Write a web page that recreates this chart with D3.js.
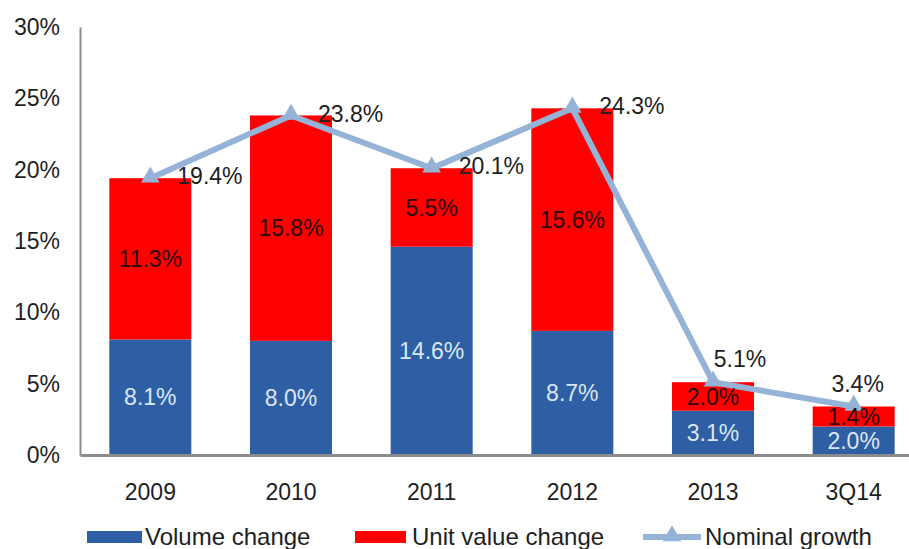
<!DOCTYPE html>
<html>
<head>
<meta charset="utf-8">
<script src="https://cdn.jsdelivr.net/npm/d3@7/dist/d3.min.js"></script>
<style>
  html, body { margin: 0; padding: 0; background: #fff; }
  svg { display: block; font-family: "Liberation Sans", Arial, sans-serif; }
</style>
</head>
<body>
<svg id="chart" width="909" height="549"></svg>
<script>
// Growth decomposition by year
const categories = ["2009", "2010", "2011", "2012", "2013", "3Q14"];
const volumeChange = [8.1, 8.0, 14.6, 8.7, 3.1, 2.0];
const unitValueChange = [11.3, 15.8, 5.5, 15.6, 2.0, 1.4];
const nominalGrowth = [19.4, 23.8, 20.1, 24.3, 5.1, 3.4];
const yTicks = [0, 5, 10, 15, 20, 25, 30];
const seriesNames = ["Volume change", "Unit value change", "Nominal growth"];

const BLUE = "#2E5FA5", RED = "#FF0000", LINE = "#95B3D7", AXIS = "#8C8C8C", TEXT = "#1E1E1E";
const FS = 23;

const svg = d3.select("#chart");

const x = d3.scaleBand().domain(categories).range([80, 924]).paddingInner(0.417).paddingOuter(0.2085);
const y = d3.scaleLinear().domain([0, 30]).range([455, 27]);

const rows = categories.map((c, i) => ({
  cat: c, vol: volumeChange[i], unit: unitValueChange[i], nom: nominalGrowth[i]
}));

// Y axis
const yAxis = svg.append("g").attr("transform", "translate(80,0)")
  .call(d3.axisLeft(y).tickValues(yTicks).tickFormat(d => d + "%").tickSize(0).tickPadding(20));
yAxis.select(".domain").attr("stroke", AXIS).attr("stroke-width", 2);
yAxis.selectAll("text").attr("font-size", FS).attr("fill", TEXT).attr("font-family", "Liberation Sans, Arial, sans-serif");

// Stacked bars
const barG = svg.append("g");
barG.selectAll("rect.vol").data(rows).join("rect")
  .attr("x", d => x(d.cat)).attr("width", x.bandwidth())
  .attr("y", d => y(d.vol)).attr("height", d => y(0) - y(d.vol))
  .attr("fill", BLUE);
barG.selectAll("rect.unit").data(rows).join("rect")
  .attr("x", d => x(d.cat)).attr("width", x.bandwidth())
  .attr("y", d => y(d.vol + d.unit)).attr("height", d => y(d.vol) - y(d.vol + d.unit))
  .attr("fill", RED);

// X axis
const xAxis = svg.append("g").attr("transform", "translate(0,455)")
  .call(d3.axisBottom(x).tickSize(0).tickPadding(29).tickSizeOuter(0));
xAxis.select(".domain").attr("stroke", AXIS).attr("stroke-width", 3);
xAxis.selectAll("text").attr("font-size", FS).attr("fill", TEXT).attr("font-family", "Liberation Sans, Arial, sans-serif");

// Nominal growth line with triangle markers
const cx = d => x(d.cat) + x.bandwidth() / 2;
svg.append("path").datum(rows)
  .attr("fill", "none").attr("stroke", LINE).attr("stroke-width", 6).attr("stroke-linejoin", "round")
  .attr("d", d3.line().x(cx).y(d => y(d.nom)));

const tri = d3.symbol().type(d3.symbolTriangle).size(150);
svg.append("g").selectAll("path").data(rows).join("path")
  .attr("d", tri)
  .attr("transform", d => `translate(${cx(d)},${y(d.nom) - 1})`)
  .attr("fill", LINE);

// Segment value labels
const labelG = svg.append("g").attr("font-size", FS).attr("text-anchor", "middle");
labelG.selectAll("text.vol").data(rows).join("text")
  .attr("x", cx).attr("y", d => y(d.vol / 2)).attr("dy", "0.35em")
  .attr("fill", "#DCE6F2").text(d => d.vol.toFixed(1) + "%");
labelG.selectAll("text.unit").data(rows).join("text")
  .attr("x", cx).attr("y", d => y(d.vol + d.unit / 2)).attr("dy", "0.35em")
  .attr("fill", "#2a0a0a").text(d => d.unit.toFixed(1) + "%");

// Line value labels: right of the marker, above it for the last two points
const above = { "2013": 27, "3Q14": 4 };
svg.append("g").attr("font-size", FS).attr("fill", TEXT)
  .selectAll("text").data(rows).join("text")
  .attr("text-anchor", d => d.cat in above ? "middle" : "start")
  .attr("x", d => d.cat in above ? cx(d) + above[d.cat] : cx(d) + 27)
  .attr("y", d => d.cat in above ? y(d.nom) - 23 : y(d.nom) - 2)
  .attr("dy", "0.35em")
  .text(d => d.nom.toFixed(1) + "%");

// Legend
const legend = svg.append("g").attr("font-size", 24).attr("fill", TEXT);
const lgX = [87, 355, 643];
legend.append("rect").attr("x", lgX[0]).attr("y", 531).attr("width", 55).attr("height", 12).attr("fill", BLUE);
legend.append("rect").attr("x", lgX[1]).attr("y", 531).attr("width", 51).attr("height", 12).attr("fill", RED);
legend.append("line").attr("x1", lgX[2]).attr("x2", lgX[2] + 58).attr("y1", 537).attr("y2", 537)
  .attr("stroke", LINE).attr("stroke-width", 6);
legend.append("path").attr("d", tri).attr("transform", `translate(${lgX[2] + 29},536)`).attr("fill", LINE);
const lgText = [lgX[0] + 58, lgX[1] + 57, lgX[2] + 62];
seriesNames.forEach((n, i) => {
  legend.append("text").attr("x", lgText[i]).attr("y", 545).text(n);
});
</script>
</body>
</html>
